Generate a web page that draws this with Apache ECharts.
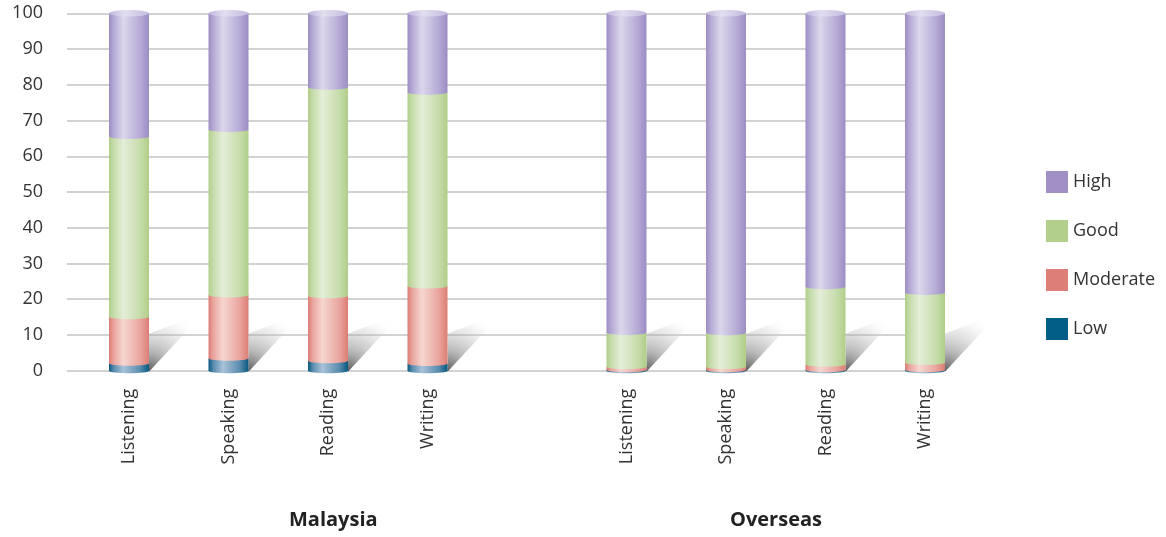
<!DOCTYPE html>
<html>
<head>
<meta charset="utf-8">
<script src="https://cdn.jsdelivr.net/npm/echarts@6/dist/echarts.min.js"></script>
<style>
  html, body { margin: 0; padding: 0; background: #fff; }
  #chart { width: 1166px; height: 537px; }
</style>
</head>
<body>
<div id="chart"></div>
<script>
// === data ===
const groups = ['Malaysia', 'Overseas']
const skills = ['Listening', 'Speaking', 'Reading', 'Writing']
const yTicks = [0, 10, 20, 30, 40, 50, 60, 70, 80, 90, 100]

// Malaysia (4) then Overseas (4), percent of respondents
const low      = [2.1, 3.5, 2.8, 2.0, 0.3, 0.3, 0.3, 0.3]
const moderate = [13.0, 17.7, 18.2, 21.7, 0.8, 0.8, 1.5, 2.0]
const good     = [50.4, 46.3, 58.3, 54.2, 9.6, 9.5, 21.7, 19.6]
const high     = [34.5, 32.5, 20.7, 22.1, 89.3, 89.4, 76.5, 78.1]

// === colours (edge / mid / highlight) ===
const palette = {
  High:     { solid: '#a090c6', edge: '#9c8dc3', mid: '#b5aad5', light: '#dcd7ec' },
  Good:     { solid: '#b2d08b', edge: '#afce87', mid: '#c6dcab', light: '#e4eed8' },
  Moderate: { solid: '#dd7f78', edge: '#dd7d75', mid: '#e9a59e', light: '#f6d6d0' },
  Low:      { solid: '#005e87', edge: '#07587f', mid: '#5a8cae', light: '#a8c3d8' },
}

// category slots: 4 skills, one empty gap slot, 4 skills
const slotLabels = [...skills, '', ...skills]
const slotIndex = (i) => (i < 4 ? i : i + 1)

const BAR_W = 40
const RY = 2.5

function cylGradient(c) {
  return new echarts.graphic.LinearGradient(0, 0, 1, 0, [
    { offset: 0, color: c.edge },
    { offset: 0.12, color: c.mid },
    { offset: 0.36, color: c.light },
    { offset: 0.78, color: c.mid },
    { offset: 1, color: c.edge },
  ])
}

// stacked ranges [slot, base, top]
const levels = [
  ['Low', low],
  ['Moderate', moderate],
  ['Good', good],
  ['High', high],
]
const cum = low.map(() => 0)
const stacked = levels.map(([name, vals]) => {
  const data = vals.map((v, i) => {
    const base = cum[i]
    cum[i] += v
    return [slotIndex(i), base, cum[i]]
  })
  return { name, data }
})

function makeRender(name) {
  const c = palette[name]
  return function (params, api) {
    const x = api.value(0)
    const p0 = api.coord([x, api.value(1)])
    const p1 = api.coord([x, api.value(2)])
    const xl = p0[0] - BAR_W / 2
    const children = [
      { type: 'rect', shape: { x: xl, y: p1[1], width: BAR_W, height: p0[1] - p1[1] }, style: { fill: cylGradient(c) } },
      { type: 'ellipse', shape: { cx: p0[0], cy: p0[1], rx: BAR_W / 2, ry: RY }, style: { fill: cylGradient(c) } },
    ]
    // top cap on the last segment
    if (name === 'High') {
      children.push({
        type: 'ellipse',
        shape: { cx: p1[0], cy: p1[1], rx: BAR_W / 2, ry: RY + 0.8 },
        style: {
          fill: new echarts.graphic.LinearGradient(0, 0, 1, 0, [
            { offset: 0, color: '#c2b8dd' },
            { offset: 0.4, color: '#e2def0' },
            { offset: 1, color: '#c4bbde' },
          ]),
        },
      })
    }
    return { type: 'group', children }
  }
}

// floor shadow to the right of each bar
function renderShadow(params, api) {
  const p = api.coord([api.value(0), 0])
  const xr = p[0] + BAR_W / 2
  const y0 = p[1]
  return {
    type: 'polygon',
    shape: { points: [[xr, y0 + 1], [xr, y0 - 37], [xr + 54, y0 - 58], [xr + 50, y0 - 53]] },
    style: {
      fill: new echarts.graphic.RadialGradient(0, 1, 1.15, [
        { offset: 0, color: 'rgba(60,60,60,0.85)' },
        { offset: 0.35, color: 'rgba(130,130,130,0.55)' },
        { offset: 0.75, color: 'rgba(200,200,200,0.3)' },
        { offset: 1, color: 'rgba(250,250,250,0.05)' },
      ]),
    },
  }
}

const chart = echarts.init(document.getElementById('chart'))
const FONT = '"Open Sans", "Noto Sans", sans-serif'

const option = {
  animation: false,
  textStyle: { fontFamily: FONT },
  grid: [
    // bars
    { left: 79.25, right: 191.25, top: 13.3, bottom: 166.3 },
    // gridlines + value labels
    { left: 67, right: 226, top: 13.3, bottom: 166.3 },
  ],
  legend: {
    orient: 'vertical',
    left: 1041,
    top: 166,
    itemWidth: 22,
    itemHeight: 22,
    itemGap: 27,
    icon: 'rect',
    selectedMode: false,
    textStyle: { fontSize: 18, color: '#333', fontFamily: FONT },
    data: ['High', 'Good', 'Moderate', 'Low'].map((n) => ({
      name: n,
      itemStyle: { color: palette[n].solid },
    })),
  },
  xAxis: [
    {
      type: 'category',
      gridIndex: 0,
      data: slotLabels,
      axisLine: { show: false },
      axisTick: { show: false },
      axisLabel: { interval: 0, rotate: 90, fontSize: 18, color: '#333', margin: 18, fontFamily: FONT },
      splitLine: { show: false },
    },
    { type: 'value', gridIndex: 1, min: 0, max: 1, show: false },
  ],
  yAxis: [
    { type: 'value', gridIndex: 0, min: 0, max: 100, show: false },
    {
      type: 'value',
      gridIndex: 1,
      min: yTicks[0],
      max: yTicks[yTicks.length - 1],
      interval: 10,
      axisLine: { show: false },
      axisTick: { show: false },
      axisLabel: { fontSize: 18, color: '#333', margin: 24, fontFamily: FONT },
      splitLine: { lineStyle: { color: '#d2d2d2', width: 2 } },
    },
  ],
  graphic: groups.map((g, i) => ({
    type: 'text',
    left: [289, 730][i],
    top: 510,
    style: { text: g, fontSize: 20, fontWeight: 'bold', fill: '#222', fontFamily: FONT },
  })),
  series: [
    {
      name: 'shadow',
      type: 'custom',
      xAxisIndex: 0,
      yAxisIndex: 0,
      silent: true,
      z: 1,
      renderItem: renderShadow,
      data: low.map((v, i) => [slotIndex(i), 0]),
    },
    ...stacked.map((s) => ({
      name: s.name,
      type: 'custom',
      xAxisIndex: 0,
      yAxisIndex: 0,
      z: 2,
      silent: true,
      itemStyle: { color: palette[s.name].solid },
      encode: { x: 0, y: [1, 2] },
      renderItem: makeRender(s.name),
      data: s.data,
    })),
  ],
}

chart.setOption(option)
window.addEventListener('resize', () => chart.resize())
</script>
</body>
</html>
